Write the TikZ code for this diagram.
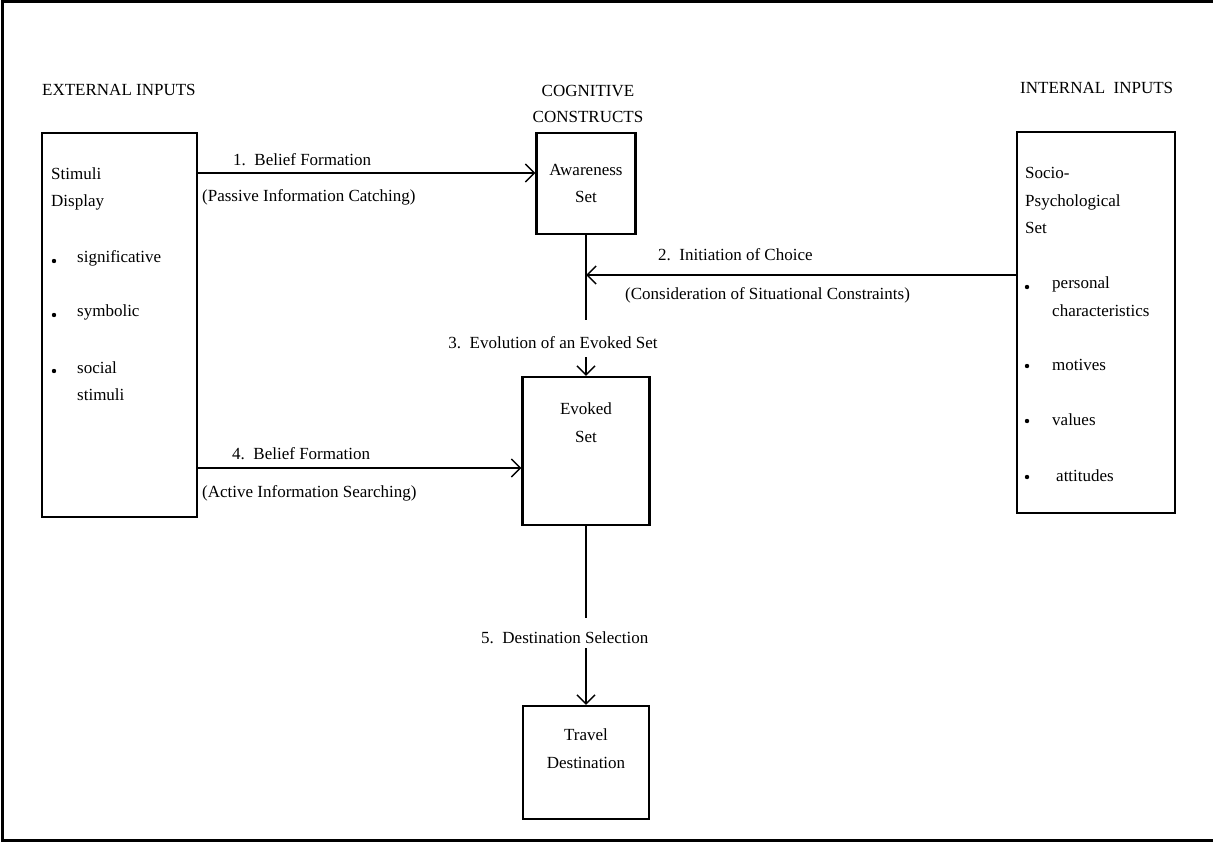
\documentclass[tikz,border=0pt]{standalone}
\usepackage{fontspec}
\setmainfont{Liberation Serif}
\usetikzlibrary{arrows.meta}
\newcommand\dgfont{\fontsize{17}{27.5}\selectfont}

\begin{document}
\begin{tikzpicture}[x=1pt,y=-1pt,
  font=\dgfont,
  box/.style={draw, line width=2.2pt, inner sep=0pt},
  conn/.style={line width=1.5pt},
  arr/.style={conn, -{Straight Barb[length=9pt,width=18pt,line width=1.5pt]}},
  lbl/.style={inner sep=0pt, anchor=west},
  ctr/.style={inner sep=0pt, align=center},
  bul/.style={circle, fill, inner sep=0pt, minimum size=4.4pt}]

\useasboundingbox (0,0) rectangle (1213,843);
% open frame: top, left and bottom rules
\draw[line width=3.5pt] (1213,1.5) -- (2.5,1.5) -- (2.5,840.5) -- (1213,840.5);

% column headings
\node[lbl] (hext) at (42,90) {EXTERNAL INPUTS};
\node[ctr, font=\fontsize{17}{26}\selectfont] (hcog) at (588,104) {COGNITIVE\\CONSTRUCTS};
\node[lbl] (hint) at (1020,88) {INTERNAL\ \ INPUTS};

% boxes
\node[box, minimum width=155pt, minimum height=384pt] (stim) at (119.5,325) {};
\node[box, minimum width=99pt, minimum height=101pt, align=center] (aw) at (586,183.5) {Awareness\\Set};
\node[box, minimum width=127pt, minimum height=148pt] (ev) at (586,451) {};
\node[box, minimum width=126pt, minimum height=113pt] (tr) at (586,762.5) {};
\node[box, minimum width=158pt, minimum height=381pt] (soc) at (1096,322.5) {};

% box contents
\node[ctr] (evt) at (586,422.5) {Evoked\\Set};
\node[ctr] (trt) at (586,748.5) {Travel\\Destination};

\node[lbl, align=left] (stt) at (51,189) {Stimuli\\Display};
\node[bul] (sb1) at (54,261) {};
\node[lbl] (s1) at (77,258) {significative};
\node[bul] (sb2) at (54,315) {};
\node[lbl] (s2) at (77,312) {symbolic};
\node[bul] (sb3) at (54,371) {};
\node[lbl, align=left] (s3) at (77,381) {social\\stimuli};

\node[lbl, align=left] (sct) at (1025,200.5) {Socio-\\Psychological\\Set};
\node[bul] (pb1) at (1027,287) {};
\node[lbl, align=left] (p1) at (1052,296.5) {personal\\characteristics};
\node[bul] (pb2) at (1027,366) {};
\node[lbl] (p2) at (1052,365) {motives};
\node[bul] (pb3) at (1027,421) {};
\node[lbl] (p3) at (1052,420) {values};
\node[bul] (pb4) at (1027,477) {};
\node[lbl] (p4) at (1056,476) {attitudes};

% connector end points
\coordinate (c1) at (537,173);
\coordinate (c2) at (586,275);
\coordinate (c3a) at (586,320);
\coordinate (c3b) at (586,357);
\coordinate (c4) at (522,468);
\coordinate (c5a) at (586,618);
\coordinate (c5b) at (586,648);

% 1. belief formation (passive)
\draw[arr] (stim.east |- c1) -- (aw.west |- c1);
\node[lbl] (l1a) at (233,160) {1.\ \ Belief Formation};
\node[lbl] (l1b) at (202,197) {(Passive Information Catching)};

% 2. initiation of choice
\draw[conn] (aw.south) -- (c3a);
\draw[arr] (soc.west |- c2) -- (c2);
\node[lbl] (l2a) at (658,255) {2.\ \ Initiation of Choice};
\node[lbl] (l2b) at (625,295) {(Consideration of Situational Constraints)};

% 3. evolution of an evoked set
\node[ctr] (l3) at (553,343) {3.\ \ Evolution of an Evoked Set};
\draw[arr] (c3b) -- (ev.north);

% 4. belief formation (active)
\draw[arr] (stim.east |- c4) -- (ev.west |- c4);
\node[lbl] (l4a) at (232,454) {4.\ \ Belief Formation};
\node[lbl] (l4b) at (202,493) {(Active Information Searching)};

% 5. destination selection
\draw[conn] (ev.south) -- (c5a);
\node[lbl] (l5) at (481,638) {5.\ \ Destination Selection};
\draw[arr] (c5b) -- (tr.north);
\end{tikzpicture}
\end{document}
